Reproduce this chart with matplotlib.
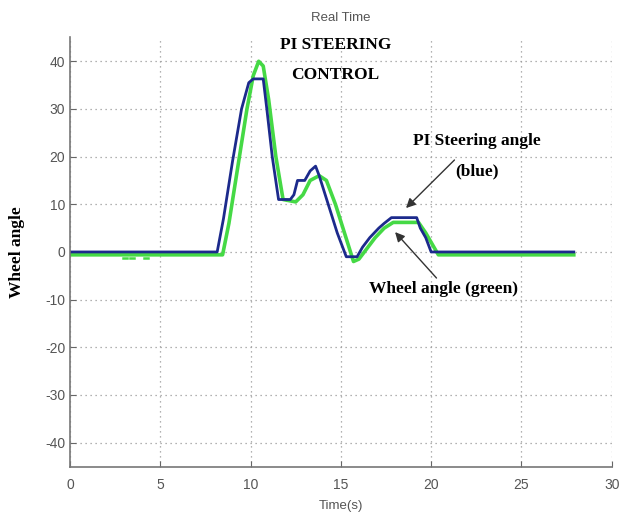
import numpy as np
import matplotlib.pyplot as plt

plt.rcParams["axes.unicode_minus"] = False

# PI steering command (blue) and measured wheel angle (green)
t_blue = [0, 8.15, 8.5, 9.0, 9.5, 9.9, 10.15, 10.7, 10.9, 11.2, 11.55, 12.2, 12.4, 12.6,
          13.0, 13.3, 13.6, 13.8, 14.3, 14.8, 15.3, 15.55, 15.9, 16.2, 16.6, 17.1, 17.4,
          17.8, 19.2, 19.4, 19.7, 20.0, 27.9]
v_blue = [0, 0, 7, 19, 30, 35.5, 36.3, 36.3, 30, 20, 11, 11, 12, 15,
          15, 17, 18, 16, 10, 4, -1, -1, -1, 1, 3, 5, 6,
          7.2, 7.2, 5, 3, 0, 0]

t_green = [0, 8.45, 8.8, 9.3, 9.8, 10.15, 10.45, 10.7, 11.0, 11.4, 11.8, 12.5, 12.9, 13.3,
           13.8, 14.2, 14.7, 15.2, 15.7, 16.0, 16.4, 16.9, 17.4, 17.9, 19.3, 19.7, 20.4, 27.9]
v_green = [-0.6, -0.6, 6, 18, 30, 37, 40, 39, 32, 20, 11, 10.5, 12, 15,
           16, 15, 10, 4, -2, -1.5, 0.5, 3, 5, 6.2, 6.2, 4, -0.6, -0.6]

# short green glitches near t=3..4
t_glitch = [2.95, 3.15, np.nan, 3.35, 3.55, np.nan, 4.1, 4.3]
v_glitch = [-1.3, -1.3, np.nan, -1.3, -1.3, np.nan, -1.3, -1.3]

fig = plt.figure(figsize=(6.29, 5.14), dpi=100)
ax = fig.add_axes([0.1113, 0.0924, 0.8612, 0.8348])

ax.plot(t_green, v_green, color="#45d945", linewidth=2.6, solid_joinstyle="round")
ax.plot(t_glitch, v_glitch, color="#45d945", linewidth=1.8)
ax.plot(t_blue, v_blue, color="#1c2a8c", linewidth=2.0, solid_joinstyle="round")

ax.set_xlim(0, 30)
ax.set_ylim(-45, 45)
ax.set_xticks([0, 5, 10, 15, 20, 25, 30])
ax.set_yticks([-40, -30, -20, -10, 0, 10, 20, 30, 40])
ax.grid(True, linestyle=(0, (1, 3)), color="#999999", linewidth=0.9)
ax.tick_params(direction="in", colors="#666666", labelcolor="#555555",
               labelsize=10, length=4)
ax.tick_params(axis="x", pad=8)
for lab in ax.get_xticklabels() + ax.get_yticklabels():
    lab.set_family("Liberation Sans")
for s in ["top", "right"]:
    ax.spines[s].set_visible(False)
for s in ["left", "bottom"]:
    ax.spines[s].set_color("#777777")
    ax.spines[s].set_linewidth(1.2)

ax.set_title("Real Time", fontsize=9.5, color="#555555", pad=12,
             family="Liberation Sans")
ax.set_xlabel("Time(s)", fontsize=9.5, color="#555555", labelpad=6,
              family="Liberation Sans")
ax.set_ylabel("Wheel angle", fontsize=12.5, fontweight="bold",
              family="Liberation Serif", va="center")
ax.yaxis.set_label_coords(-0.098, 0.5)

serif = dict(family="Liberation Serif", fontweight="bold", fontsize=12.5,
             ha="center", va="center")
ax.text(14.7, 43.4, "PI STEERING", **serif)
ax.text(14.7, 37.1, "CONTROL", **serif)
ax.text(22.55, 23.3, "PI Steering angle", **serif)
ax.text(22.55, 16.8, "(blue)", **serif)
ax.text(20.7, -7.8, "Wheel angle (green)", **serif)

arrow = dict(arrowstyle="-|>", color="#333333", linewidth=1.0,
             mutation_scale=14)
ax.annotate("", xy=(18.5, 8.8), xytext=(21.4, 19.7), arrowprops=arrow)
ax.annotate("", xy=(17.9, 4.6), xytext=(20.4, -5.9), arrowprops=arrow)

fig.savefig("out.png", dpi=100)
